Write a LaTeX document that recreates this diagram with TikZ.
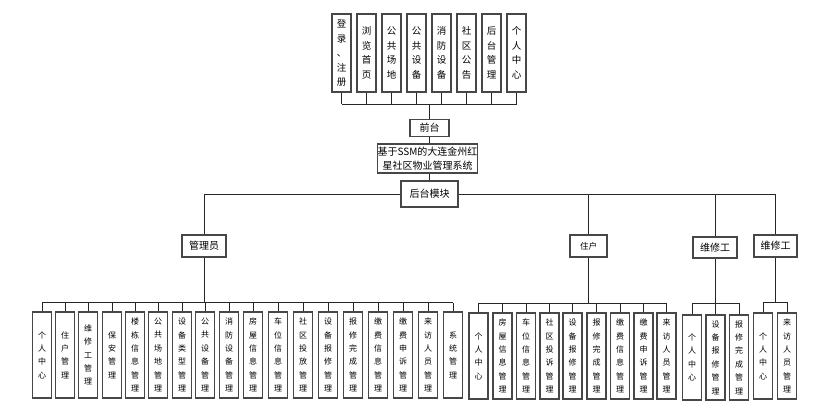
\documentclass[tikz,border=0pt]{standalone}
\usepackage{fontspec}
\setmainfont{Noto Sans CJK SC}

% stack the characters of a word one above the other
\ExplSyntaxOn
\tl_new:N \l_vstack_word_tl
\NewDocumentCommand\vstack{m}{
  \tl_set:Nx \l_vstack_word_tl {#1}
  \bool_set_false:N \l_tmpa_bool
  \tl_map_inline:Nn \l_vstack_word_tl
    { \bool_if:NT \l_tmpa_bool {\\} ##1 \bool_set_true:N \l_tmpa_bool }
}
\ExplSyntaxOff

\begin{document}
\begin{tikzpicture}[x=1pt,y=-1pt,
  box/.style={draw=black!72, line width=1.1pt, fill=white, inner sep=0pt, align=center},
  head/.style={box, font=\fontsize{10}{13.5}\selectfont},
  topbox/.style={box, minimum width=19pt, minimum height=78pt, font=\fontsize{9.5}{14.5}\selectfont},
  leaf/.style={box, minimum width=19pt, minimum height=86pt, font=\fontsize{8}{13.4}\selectfont},
  link/.style={draw=black!85, line width=0.8pt}
]
\useasboundingbox (0,0) rectangle (824,414);

% front-end pages
\foreach \x/\t [count=\i] in {341.5/登录、注册, 366.5/浏览首页, 391.5/公共场地, 416.5/公共设备,
    441.5/消防设备, 466.5/社区公告, 491.5/后台管理, 516.5/个人中心}
  \node[topbox] (t\i) at (\x,53) {\vstack{\t}};

\node[head, minimum width=39pt, minimum height=17pt] (front) at (429.5,128) {前台};
\node[head, minimum width=99pt, minimum height=29pt] (sys) at (427.5,158.5)
  {基于SSM的大连金州红\\星社区物业管理系统};
\node[head, minimum width=57pt, minimum height=26pt] (back) at (429.5,194) {后台模块};

\coordinate (topbus) at (0,104);
\foreach \i in {1,...,8}
  \draw[link] (t\i.south) -- (t\i.south |- topbus);
\draw[link] (t1.south |- topbus) -- (t8.south |- topbus);
\draw[link] (front.north) -- (front.north |- topbus);
\draw[link] (front.south) -- (front.south |- sys.north);
\draw[link] (front.south |- sys.south) -- (front.south |- back.north);

% back-end roles
\node[head, minimum width=44pt, minimum height=22pt] (admin) at (204,246) {管理员};
\node[head, minimum width=37pt, minimum height=22pt, font=\fontsize{8.5}{12}\selectfont] (owner) at (588.5,246) {住户};
\node[head, minimum width=44pt, minimum height=21pt] (rep) at (715,247.5) {维修工};
\node[head, minimum width=43pt, minimum height=22pt] (rep2) at (775.5,246) {维修工};

\draw[link] (admin.north) |- (back.west);
\draw[link] (back.east) -| (rep2.north);
\draw[link] (owner.north) -- (owner.north |- back.east);
\draw[link] (rep.north) -- (rep.north |- back.east);

% administrator functions
\coordinate (abus) at (0,302.5);
\foreach \x/\t [count=\i] in {42/个人中心, 65/住户管理, 88/维修工管理, 112/保安管理,
    135/楼栋信息管理, 158/公共场地管理, 182/设备类型管理, 205/公共设备管理,
    229/消防设备管理, 253/房屋信息管理, 278/车位信息管理, 303/社区投放管理,
    328/设备报修管理, 353/报修完成管理, 378/缴费信息管理, 403/缴费申诉管理,
    428/来访人员管理, 453/系统管理}
{
  \node[leaf] (a\i) at (\x,355) {\vstack{\t}};
  \draw[link] (a\i.north) -- (a\i.north |- abus);
}
\draw[link] (a1.north |- abus) -- (a18.north |- abus);
\draw[link] (admin.south) -- (admin.south |- abus);

% resident functions
\coordinate (obus) at (0,303);
\foreach \x/\t [count=\i] in {478.5/个人中心, 502.5/房屋信息管理, 526/车位信息管理,
    549.5/社区投诉管理, 572.5/设备报修管理, 596.5/报修完成管理, 620/缴费信息管理,
    643.5/缴费申诉管理, 666.5/来访人员管理}
{
  \node[leaf] (o\i) at (\x,356) {\vstack{\t}};
  \draw[link] (o\i.north) -- (o\i.north |- obus);
}
\draw[link] (o1.north |- obus) -- (o9.north |- obus);
\draw[link] (owner.south) -- (owner.south |- obus);

% repairman functions
\coordinate (rbus) at (0,303);
\foreach \x/\t [count=\i] in {692/个人中心, 715.5/设备报修管理, 739/报修完成管理}
{
  \node[leaf, minimum height=85pt] (r\i) at (\x,357.5) {\vstack{\t}};
  \draw[link] (r\i.north) -- (r\i.north |- rbus);
}
\draw[link] (r1.north |- rbus) -- (r3.north |- rbus);
\draw[link] (rep.south) -- (rep.south |- rbus);

\coordinate (sbus) at (0,302);
\foreach \x/\t [count=\i] in {763/个人中心, 787/来访人员管理}
{
  \node[leaf] (s\i) at (\x,356) {\vstack{\t}};
  \draw[link] (s\i.north) -- (s\i.north |- sbus);
}
\draw[link] (s1.north |- sbus) -- (s2.north |- sbus);
\draw[link] (rep2.south) -- (rep2.south |- sbus);
\end{tikzpicture}
\end{document}
